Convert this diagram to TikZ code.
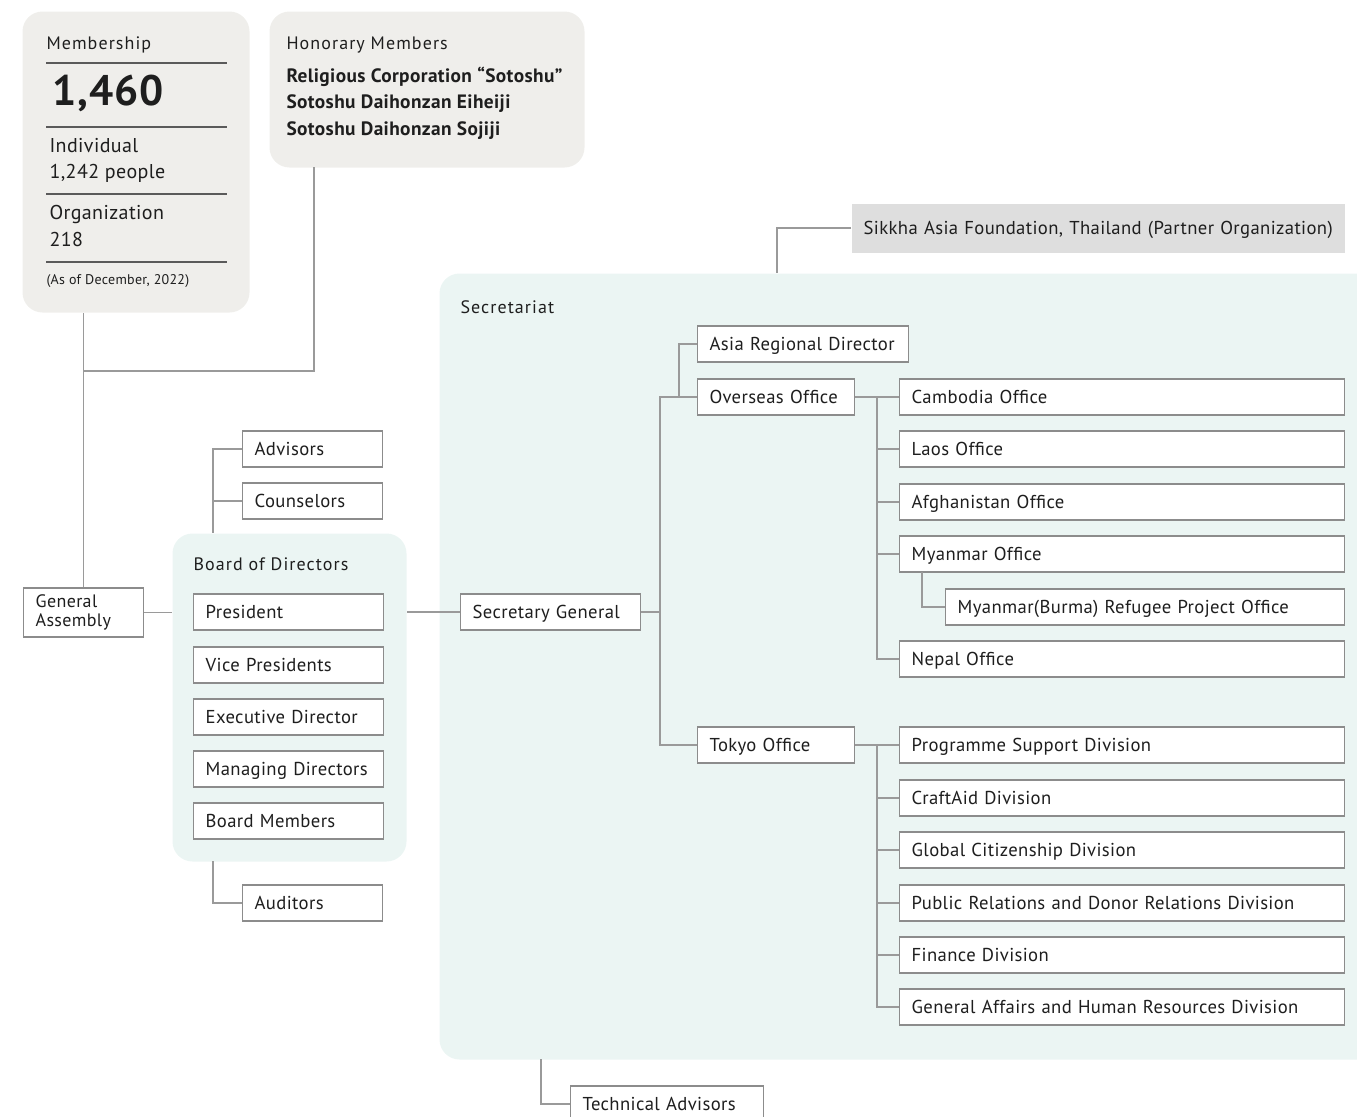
\documentclass[tikz,border=0pt]{standalone}
\usepackage{fontspec}
\setmainfont{PT Sans}[LetterSpace=2]

\definecolor{ink}{HTML}{1E1E1E}
\definecolor{linkgray}{HTML}{9A9A9A}
\definecolor{boxgray}{HTML}{8C8C8C}
\definecolor{rulegray}{HTML}{5A5A5A}
\definecolor{memgray}{HTML}{EFEEEB}
\definecolor{secteal}{HTML}{EBF5F3}
\definecolor{partgray}{HTML}{DEDEDE}

\tikzset{every picture/.style={line width=0.75pt}}
\tikzset{
  link/.style={draw=linkgray, line width=1pt},
  rule/.style={draw=rulegray, line width=1.4pt},
  unit/.style={draw=boxgray, fill=white, line width=1pt, anchor=west, minimum height=27pt,
    inner xsep=9pt, inner ysep=0pt, text width=#1, align=left, text=ink,
    text height=10pt, text depth=0pt, font=\fontsize{14}{16}\selectfont},
  panel/.style={fill=#1, rounded corners=15pt, anchor=north west, inner sep=0pt},
  caption/.style={anchor=base west, inner sep=0pt, text=ink, font=\fontsize{14}{16}\selectfont},
  title/.style={caption, font=\fontsize{13.5}{16}\selectfont\addfontfeature{LetterSpace=6}},
}

\begin{document}
\begin{tikzpicture}[x=0.75pt,y=0.75pt,yscale=-1,xscale=1]
	\useasboundingbox (0,0) rectangle (1357,1117);

	%Shape: Panels
	\node[panel=memgray, minimum width=170.25pt, minimum height=225.75pt] (member) at (22,11) {};
	\node[panel=memgray, minimum width=236.25pt, minimum height=117pt] (honor) at (269,11) {};
	\node[panel=secteal, minimum width=706pt, minimum height=589.5pt] (secr) at (439,273) {};
	\node[panel=secteal, minimum width=175.5pt, minimum height=246pt] (board) at (172,533) {};

	% Text Node: membership figures
	\node[title] (memtitle) at (46,49) {Membership};
	\foreach \y in {63,127,194,262}
		\draw[rule] (46,\y) -- (227,\y);
	\node[caption, font=\bfseries\fontsize{32}{32}\selectfont] (memtotal) at (52,105) {1,460};
	\node[caption, font=\fontsize{15}{18}\selectfont] (indiv) at (49,152) {Individual};
	\node[caption, font=\fontsize{15}{18}\selectfont] (indivnum) at (49,178) {1,242 people};
	\node[caption, font=\fontsize{15}{18}\selectfont] (orgn) at (49,219) {Organization};
	\node[caption, font=\fontsize{15}{18}\selectfont] (orgnum) at (49,246) {218};
	\node[caption, font=\fontsize{10.5}{12}\selectfont] (asof) at (46,284) {(As of December, 2022)};

	% Text Node: honorary members
	\node[title] (hontitle) at (286,49) {Honorary Members};
	\node[caption, font=\bfseries\fontsize{14.5}{16}\selectfont] (hon1) at (286,82) {Religious Corporation “Sotoshu”};
	\node[caption, font=\bfseries\fontsize{14.5}{16}\selectfont] (hon2) at (286,108) {Sotoshu Daihonzan Eiheiji};
	\node[caption, font=\bfseries\fontsize{14.5}{16}\selectfont] (hon3) at (286,135) {Sotoshu Daihonzan Sojiji};

	% Text Node: panel titles
	\node[title] (boardtitle) at (193,570) {Board of Directors};
	\node[title] (secrtitle) at (460,313) {Secretariat};

	%Shape: Rectangle, left side
	\node[unit=72pt, font=\fontsize{13.5}{14.25}\selectfont, minimum height=36.75pt, text height=, text depth=] (ga) at (23,612.5) {General\\Assembly};
	\node[unit=87pt] (adv) at (242,449) {Advisors};
	\node[unit=87pt] (coun) at (242,501) {Counselors};
	\node[unit=87pt] (aud) at (242,903) {Auditors};
	\node[unit=124.5pt] (pres) at (193,612) {President};
	\node[unit=124.5pt] (vice) at (193,665) {Vice Presidents};
	\node[unit=124.5pt] (exec) at (193,717) {Executive Director};
	\node[unit=124.5pt] (mgmt) at (193,769) {Managing Directors};
	\node[unit=124.5pt] (bmem) at (193,821) {Board Members};

	%Shape: Rectangle, secretariat
	\node[unit=351.75pt, draw=none, fill=partgray, minimum height=36.75pt] (sikkha) at (851,228) {Sikkha Asia Foundation, Thailand (Partner Organization)};
	\node[unit=117pt] (sg) at (460,612) {Secretary General};
	\node[unit=140.25pt] (asia) at (697,344) {Asia Regional Director};
	\node[unit=99.75pt] (over) at (697,397) {Overseas Office};
	\node[unit=99.75pt] (tokyo) at (697,745) {Tokyo Office};
	\node[unit=315.75pt] (camb) at (899,397) {Cambodia Office};
	\node[unit=315.75pt] (laos) at (899,449) {Laos Office};
	\node[unit=315.75pt] (afgh) at (899,502) {Afghanistan Office};
	\node[unit=315.75pt] (myan) at (899,554) {Myanmar Office};
	\node[unit=281.25pt] (refug) at (945,607) {Myanmar(Burma) Refugee Project Office};
	\node[unit=315.75pt] (nepal) at (899,659) {Nepal Office};
	\node[unit=315.75pt] (prog) at (899,745) {Programme Support Division};
	\node[unit=315.75pt] (craft) at (899,798) {CraftAid Division};
	\node[unit=315.75pt] (glob) at (899,850) {Global Citizenship Division};
	\node[unit=315.75pt] (pubrel) at (899,903) {Public Relations and Donor Relations Division};
	\node[unit=315.75pt] (fin) at (899,955) {Finance Division};
	\node[unit=315.75pt] (genaff) at (899,1007) {General Affairs and Human Resources Division};
	\node[unit=126.75pt] (tech) at (570,1104) {Technical Advisors};

	%Straight Lines: junction points
	\coordinate (honfoot) at (314,167);
	\coordinate (gajoin) at (83,371);
	\coordinate (bdtop) at (213,533);
	\coordinate (bdfoot) at (213,861);
	\coordinate (sectop) at (777,273);
	\coordinate (secfoot) at (541,1059);
	\coordinate (sgbus) at (660,612);
	\coordinate (asbus) at (679,397);
	\coordinate (ovbus) at (877,397);
	\coordinate (tkbus) at (877,745);
	\coordinate (mytap) at (922,572);

	%Straight Lines: connectors
	\draw[link] (ga.north) -- (ga.north |- member.south);
	\draw[link] (honfoot) |- (gajoin);
	\draw[link] (ga.east) -- (ga.east -| board.west);
	\draw[link] (adv.west) -| (bdtop);
	\draw[link] (coun.west) -- (coun.west -| bdtop);
	\draw[link] (bdfoot) |- (aud.west);
	\draw[link] (sg.west -| board.east) -- (sg.west);
	\draw[link] (sikkha.west) -| (sectop);
	\draw[link] (secfoot) |- (tech.west);
	\draw[link] (sg.east) -- (sgbus);
	\draw[link] (over.west) -| (sgbus) |- (tokyo.west);
	\draw[link] (asia.west) -| (asbus);
	\draw[link] (over.east) -- (camb.west);
	\foreach \n in {laos,afgh,myan,nepal}
		\draw[link] (\n.west) -| (ovbus);
	\draw[link] (mytap) |- (refug.west);
	\draw[link] (tokyo.east) -- (prog.west);
	\foreach \n in {craft,glob,pubrel,fin,genaff}
		\draw[link] (\n.west) -| (tkbus);

\end{tikzpicture}
\end{document}
